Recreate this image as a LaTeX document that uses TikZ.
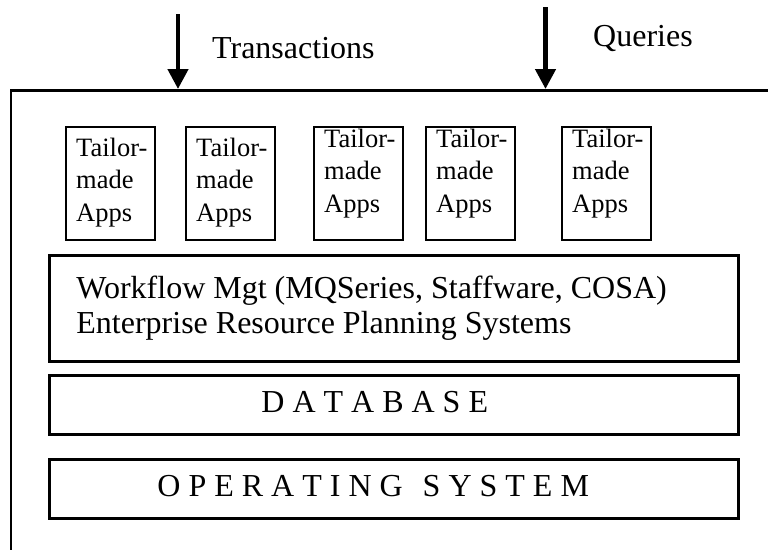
\documentclass[tikz,border=0pt]{standalone}
\usepackage{fontspec}
\setmainfont{Liberation Serif}
\usepackage{tikz}
\usetikzlibrary{arrows.meta}

\begin{document}
\begin{tikzpicture}[x=1pt, y=-1pt,
    bigfont/.style={font=\fontsize{32}{34.5}\selectfont},
    appbox/.style={draw, line width=2pt, anchor=north west, minimum width=89pt, minimum height=112.5pt, inner sep=0pt},
    apptext/.style={anchor=base west, align=left, inner sep=0pt, font=\fontsize{26.5}{32.5}\selectfont},
    layer/.style={draw, line width=2.8pt, anchor=north west, minimum width=689pt, align=flush left, bigfont},
    flow/.style={-{Triangle[width=20pt, length=20pt]}, line width=4.5pt}]
    \useasboundingbox (0,0) rectangle (768,549);
    \clip (0,0) rectangle (768,549);

    % system frame, runs off at right and bottom
    \node[draw, line width=2.8pt, anchor=north west, minimum width=800pt, minimum height=500pt] (sys) at (9.5,89) {};

    % inputs
    \node[bigfont, anchor=base west, inner sep=0pt] (trans) at (212,58) {Transactions};
    \node[bigfont, anchor=base west, inner sep=0pt] (query) at (593,46) {Queries};
    \coordinate (tin) at (178,14);
    \coordinate (qin) at (545.5,7);
    \draw[flow] (tin) -- (tin |- sys.north);
    \draw[flow] (qin) -- (qin |- sys.north);

    % tailor-made applications (base = last line)
    \foreach \x/\d [count=\i] in {65/95,185/95,313/86,425/86,561/86} {
        \node[appbox] (app\i) at (\x,126) {};
        \node[apptext] at ([shift={(11,\d)}]app\i.north west) {Tailor-\\made\\Apps};
    }

    % layers
    \node[layer, minimum height=106pt, inner xsep=27pt, text width=635pt] (wf) at (48,254)
        {Workflow Mgt (MQSeries, Staffware, COSA)\\Enterprise Resource Planning Systems};
    \node[layer, minimum height=59pt, inner xsep=212pt, text width=265pt, text height=21pt, text depth=6pt] (db) at (48,374)
        {D A T A B A S E};
    \node[layer, minimum height=59pt, inner xsep=108pt, text width=473pt, text height=21pt, text depth=6pt] (os) at (48,458)
        {O P E R A T I N G\hspace{20pt}S Y S T E M};
\end{tikzpicture}
\end{document}
